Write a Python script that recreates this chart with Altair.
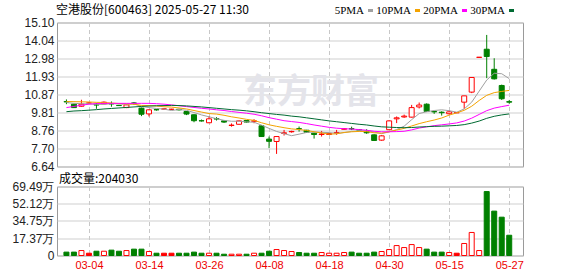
import altair as alt
import pandas as pd
import numpy as np

# ---------------- data ----------------
dates = ["02-27", "02-28",
         "03-03", "03-04", "03-05", "03-06", "03-07",
         "03-10", "03-11", "03-12", "03-13", "03-14",
         "03-17", "03-18", "03-19", "03-20", "03-21",
         "03-24", "03-25", "03-26", "03-27", "03-28",
         "03-31", "04-01", "04-02", "04-03",
         "04-07", "04-08", "04-09", "04-10", "04-11",
         "04-14", "04-15", "04-16", "04-17", "04-18",
         "04-21", "04-22", "04-23", "04-24", "04-25",
         "04-28", "04-29", "04-30",
         "05-06", "05-07", "05-08", "05-09",
         "05-12", "05-13", "05-14", "05-15", "05-16",
         "05-19", "05-20", "05-21", "05-22", "05-23",
         "05-26", "05-27"]

opens = [10.45, 10.30, 10.18, 10.37, 10.28, 10.32, 10.33, 10.23, 10.10, 10.37,
         10.07, 9.73, 9.98, 10.02, 10.00, 10.00, 9.87, 9.68, 9.33, 9.21,
         9.45, 9.32, 9.05, 9.12, 9.34, 9.30, 9.03, 8.25, 8.11, 8.58,
         8.68, 8.86, 8.77, 8.60, 8.52, 8.52, 8.61, 8.83, 8.86, 8.80,
         8.70, 8.50, 8.19, 8.80, 9.44, 9.55, 9.54, 10.14, 10.30, 9.87,
         9.83, 9.74, 9.80, 10.42, 11.01, 13.05, 13.53, 12.35, 11.40, 10.45]
highs = [10.58, 10.33, 10.56, 10.42, 10.38, 10.46, 10.46, 10.26, 10.28, 10.43,
         10.10, 9.99, 10.02, 10.05, 10.03, 10.03, 9.90, 9.70, 9.40, 9.60,
         9.54, 9.34, 9.17, 9.34, 9.36, 9.42, 9.06, 8.40, 8.42, 8.79,
         8.74, 8.99, 8.79, 8.62, 8.73, 8.62, 8.79, 8.90, 8.98, 8.83,
         8.83, 8.53, 8.48, 9.35, 9.58, 9.69, 10.26, 10.40, 10.35, 9.90,
         9.88, 9.92, 9.83, 10.79, 11.87, 13.06, 14.37, 13.00, 11.45, 10.55]
lows = [10.30, 10.08, 10.15, 10.33, 10.03, 10.30, 10.15, 10.20, 10.07, 10.26,
        9.60, 9.58, 9.92, 9.98, 9.97, 9.93, 9.66, 9.24, 9.28, 9.19,
        9.34, 9.20, 8.98, 9.10, 9.22, 9.18, 8.38, 7.72, 7.38, 8.46,
        8.63, 8.69, 8.62, 8.28, 8.40, 8.50, 8.50, 8.80, 8.78, 8.76,
        8.56, 8.15, 8.15, 8.78, 9.19, 9.50, 9.52, 10.05, 9.84, 9.73,
        9.63, 9.70, 9.78, 10.03, 10.95, 13.05, 11.83, 11.75, 10.55, 10.33]
closes = [10.44, 10.10, 10.30, 10.37, 10.25, 10.42, 10.32, 10.22, 10.26, 10.36,
          9.71, 9.97, 9.97, 10.02, 10.00, 9.97, 9.72, 9.33, 9.32, 9.44,
          9.43, 9.25, 9.07, 9.32, 9.25, 9.32, 8.40, 8.12, 8.40, 8.62,
          8.70, 8.85, 8.65, 8.52, 8.55, 8.58, 8.64, 8.86, 8.85, 8.78,
          8.62, 8.17, 8.44, 9.32, 9.50, 9.60, 10.10, 10.25, 9.87, 9.85,
          9.80, 9.85, 9.80, 10.79, 11.87, 13.06, 13.10, 11.79, 10.62, 10.42]
# volume in 万 (10k shares)
volumes = [3.4, 3.4, 5.0, 2.3, 4.3, 4.3, 5.4, 4.3, 5.0, 6.4,
           6.4, 4.0, 2.3, 2.3, 2.3, 2.3, 2.3, 3.4, 2.3, 2.3,
           2.3, 1.3, 1.3, 1.3, 1.3, 2.3, 2.3, 4.3, 6.0, 5.0,
           4.0, 3.0, 2.3, 2.3, 3.0, 2.3, 2.3, 3.0, 3.4, 2.3,
           2.3, 3.4, 4.0, 6.0, 10.0, 8.0, 11.0, 8.0, 6.4, 3.4,
           3.4, 3.0, 2.3, 12.1, 23.2, 5.0, 64.4, 44.7, 38.6, 20.403]

ma5 = [10.40, 10.35, 10.33, 10.32, 10.29, 10.29, 10.33, 10.32, 10.29, 10.32,
       10.17, 10.10, 10.05, 10.01, 9.93, 9.99, 9.94, 9.81, 9.67, 9.56,
       9.45, 9.35, 9.30, 9.30, 9.26, 9.24, 9.07, 8.88, 8.70, 8.57,
       8.45, 8.54, 8.64, 8.67, 8.65, 8.63, 8.59, 8.63, 8.70, 8.74,
       8.75, 8.66, 8.57, 8.67, 8.81, 9.01, 9.39, 9.75, 9.86, 9.93,
       9.97, 9.92, 9.83, 10.02, 10.42, 11.07, 11.72, 12.12, 12.09, 11.80]
ma10 = [10.46, 10.45, 10.44, 10.43, 10.41, 10.40, 10.37, 10.34, 10.32, 10.30,
        10.23, 10.22, 10.19, 10.15, 10.13, 10.08, 10.02, 9.93, 9.84, 9.75,
        9.72, 9.65, 9.56, 9.49, 9.41, 9.35, 9.21, 9.09, 9.00, 8.92,
        8.85, 8.81, 8.76, 8.68, 8.61, 8.54, 8.56, 8.64, 8.68, 8.70,
        8.69, 8.62, 8.60, 8.68, 8.78, 8.88, 9.02, 9.16, 9.27, 9.37,
        9.49, 9.66, 9.79, 9.94, 10.18, 10.52, 10.82, 10.98, 11.05, 11.11]
ma20 = [10.10, 10.17, 10.24, 10.30, 10.34, 10.35, 10.35, 10.35, 10.35, 10.35,
        10.35, 10.35, 10.33, 10.30, 10.26, 10.21, 10.16, 10.11, 10.06, 10.02,
        9.97, 9.93, 9.87, 9.82, 9.77, 9.71, 9.62, 9.51, 9.42, 9.33,
        9.28, 9.23, 9.16, 9.08, 9.01, 8.94, 8.89, 8.86, 8.84, 8.81,
        8.77, 8.71, 8.68, 8.68, 8.69, 8.71, 8.79, 8.90, 8.97, 9.04,
        9.09, 9.14, 9.20, 9.31, 9.48, 9.70, 9.92, 10.07, 10.16, 10.24]
ma30 = [9.86, 9.90, 9.92, 9.95, 9.98, 10.02, 10.05, 10.08, 10.11, 10.14,
        10.17, 10.19, 10.21, 10.22, 10.23, 10.22, 10.20, 10.17, 10.14, 10.10,
        10.06, 10.02, 9.98, 9.95, 9.91, 9.86, 9.80, 9.75, 9.70, 9.66,
        9.60, 9.56, 9.50, 9.44, 9.38, 9.32, 9.27, 9.22, 9.17, 9.12,
        9.08, 9.02, 8.97, 8.95, 8.93, 8.92, 8.93, 8.96, 8.98, 9.00,
        9.01, 9.03, 9.05, 9.10, 9.19, 9.31, 9.47, 9.59, 9.67, 9.73]

ma_names = ["MA5", "MA10", "MA20", "MA30"]
ma_labels = ["5PMA", "10PMA", "20PMA", "30PMA"]
ma_colors = ["#a0a0a0", "#f4a300", "#ff00ff", "#006a32"]

price_ticks = [6.64, 7.70, 8.76, 9.81, 10.87, 11.93, 12.98, 14.04, 15.10]
vol_ticks = [0, 17.37, 34.75, 52.12, 69.49]
tick_dates = ["03-04", "03-14", "03-26", "04-08", "04-18", "04-30", "05-15", "05-27"]

title_text = "空港股份[600463] 2025-05-27 11:30"
vol_title = "成交量:204030"
watermark = "东方财富"

# ---------------- frames ----------------
df = pd.DataFrame({"idx": np.arange(len(dates)), "date": dates,
                   "open": opens, "high": highs, "low": lows,
                   "close": closes, "vol": volumes})
df["dir"] = np.where(df["close"] > df["open"], "up",
                     np.where(df["close"] < df["open"], "down", "flat"))

ma_df = pd.concat([pd.DataFrame({"idx": np.arange(len(dates)), "series": n, "value": v})
                   for n, v in zip(ma_names, [ma5, ma10, ma20, ma30])])

tick_idx = [dates.index(t) for t in tick_dates]
label_expr = "[" + ",".join("'%s'" % d for d in dates) + "][datum.value]"

NUMFONT = "Liberation Sans"
CJK = "Noto Sans CJK SC"

xscale = alt.Scale(domain=[-0.59, 60.17], nice=False, zero=False)
dir_dom = ["up", "down", "flat"]
stroke_scale = alt.Scale(domain=dir_dom, range=["#ff0000", "#008000", "#ff0000"])
fill_scale = alt.Scale(domain=dir_dom, range=["#ffffff", "#008000", "#ff0000"])

x_top_axis = alt.Axis(values=tick_idx, labels=False, ticks=False, domain=False,
                      grid=True, gridDash=[4, 3], gridColor="#c8c8c8",
                      title=None, minExtent=0, maxExtent=0)
pscale = alt.Scale(domain=[6.64, 15.10], nice=False, zero=False)
paxis = alt.Axis(values=price_ticks, format=".2f", grid=True, gridColor="#cfcfcf",
                 ticks=False, domain=False, labelPadding=3, minExtent=50, maxExtent=50,
                 title=None, labelFont=NUMFONT, labelFontSize=12, labelColor="#222222")


def xt():
    return alt.X("idx:Q", scale=xscale, axis=x_top_axis)


def yp(field):
    return alt.Y(field, scale=pscale, axis=paxis)


wm = alt.Chart(pd.DataFrame({"t": [watermark]})).mark_text(
    font=CJK, fontSize=34, fontWeight="bold", color="#e4e4ea", align="center",
    baseline="middle").encode(text="t:N", x=alt.value(254), y=alt.value(70))

wicks = alt.Chart(df).mark_rule(strokeWidth=1).encode(
    x=xt(), y=yp("low:Q"), y2="high:Q",
    stroke=alt.Stroke("dir:N", scale=stroke_scale, legend=None))

bodies = alt.Chart(df).mark_bar(size=5, strokeWidth=1).encode(
    x=xt(), y=yp("open:Q"), y2="close:Q",
    fill=alt.Fill("dir:N", scale=fill_scale, legend=None),
    stroke=alt.Stroke("dir:N", scale=stroke_scale, legend=None))

ma_lines = alt.Chart(ma_df).mark_line(strokeWidth=1).encode(
    x=xt(), y=yp("value:Q"),
    color=alt.Color("series:N", scale=alt.Scale(domain=ma_names, range=ma_colors), legend=None),
    detail="series:N")

title_mark = alt.Chart(pd.DataFrame({"t": [title_text]})).mark_text(
    font=CJK, fontSize=12, color="#000000", align="left", baseline="alphabetic").encode(
    text="t:N", x=alt.value(-1), y=alt.value(-8.7))

legend_layers = []
for k, (lab, col) in enumerate(zip(ma_labels, ma_colors)):
    xr = 307 + 47 * k
    legend_layers.append(
        alt.Chart(pd.DataFrame({"t": [lab]})).mark_text(
            font="Liberation Serif", fontSize=11, color="#000000", align="right",
            baseline="alphabetic").encode(text="t:N", x=alt.value(xr), y=alt.value(-8.5)))
    legend_layers.append(
        alt.Chart(pd.DataFrame({"t": [lab]})).mark_rect(color=col).encode(
            x=alt.value(xr + 4), x2=alt.value(xr + 9), y=alt.value(-13.5), y2=alt.value(-10.5)))

price = alt.layer(wm, wicks, bodies, ma_lines, title_mark, *legend_layers).properties(
    width=466, height=144)

# ---------------- volume panel ----------------
vaxis = alt.Axis(values=vol_ticks,
                 labelExpr="datum.value == 0 ? '0' : format(datum.value, '.2f') + '万'",
                 grid=True, gridColor="#cfcfcf", ticks=False, domain=False, labelPadding=3,
                 minExtent=50, maxExtent=50, title=None, labelFont=NUMFONT,
                 labelFontSize=12, labelColor="#222222")
x_bot_axis = alt.Axis(values=tick_idx, labelExpr=label_expr, ticks=False, domain=False,
                      grid=True, gridDash=[4, 3], gridColor="#c8c8c8", title=None,
                      labelColor="#ee0000", labelFont=NUMFONT, labelFontSize=11,
                      labelPadding=4)

vol_bars = alt.Chart(df).mark_bar(size=5, strokeWidth=1).encode(
    x=alt.X("idx:Q", scale=xscale, axis=x_bot_axis),
    y=alt.Y("vol:Q", scale=alt.Scale(domain=[0, 69.49], nice=False), axis=vaxis),
    fill=alt.Fill("dir:N", scale=fill_scale, legend=None),
    stroke=alt.Stroke("dir:N", scale=stroke_scale, legend=None))

vol_title_mark = alt.Chart(pd.DataFrame({"t": [vol_title]})).mark_text(
    font=CJK, fontSize=12, color="#000000", align="left", baseline="alphabetic").encode(
    text="t:N", x=alt.value(2), y=alt.value(-4))

volume = alt.layer(vol_bars, vol_title_mark).properties(width=466, height=69)

chart = alt.vconcat(price, volume, spacing=-2).resolve_scale(y="independent").properties(
    padding={"left": 6, "top": 2.5, "right": 10, "bottom": 0},
    background="#ffffff"
).configure_view(stroke="#9a9a9a", strokeWidth=1)

chart.save("out.html", embed_options={"renderer": "svg", "actions": False})
